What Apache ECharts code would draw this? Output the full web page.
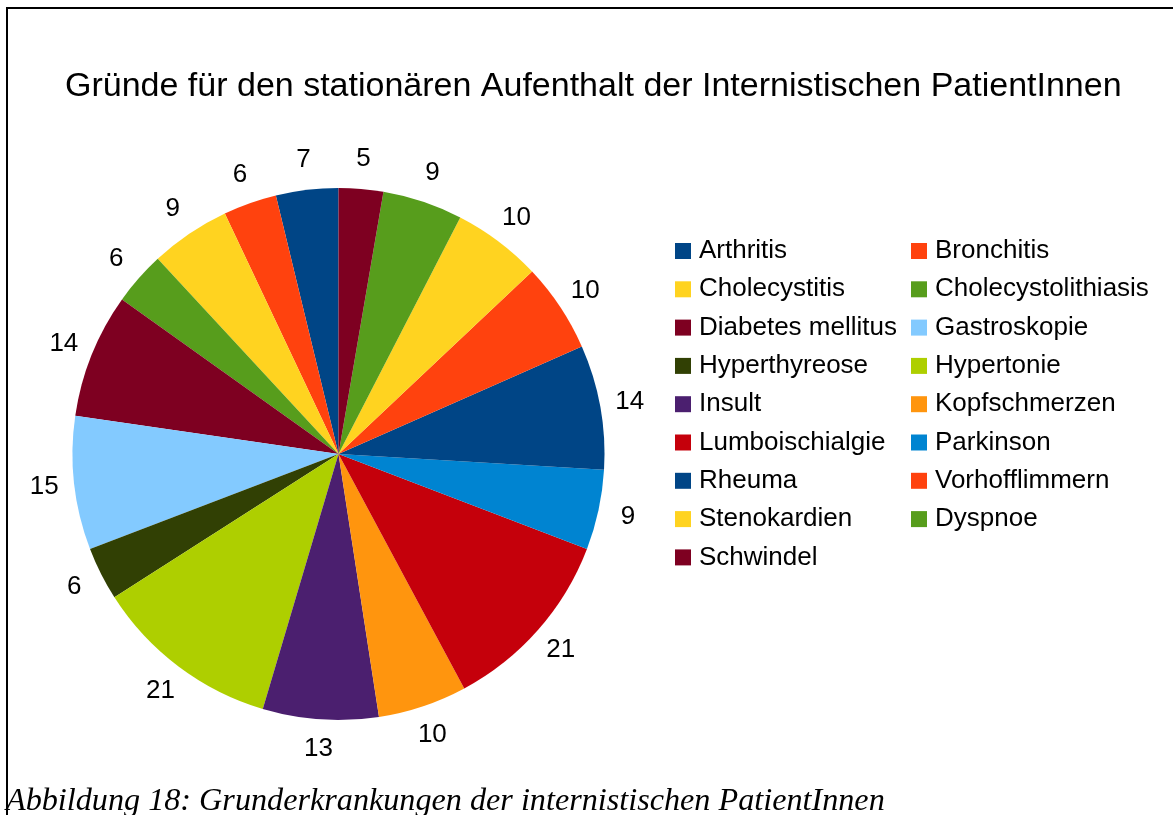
<!DOCTYPE html>
<html>
<head>
<meta charset="utf-8">
<script src="https://cdn.jsdelivr.net/npm/echarts@6/dist/echarts.min.js"></script>
<style>
  html, body { margin: 0; padding: 0; background: #fff; }
  #chart { width: 1173px; height: 815px; }
</style>
</head>
<body>
<div id="chart"></div>
<script>
// categories in legend order (pie runs counter-clockwise from 12 o'clock)
const diagnoses = [
  'Arthritis', 'Bronchitis', 'Cholecystitis', 'Cholecystolithiasis',
  'Diabetes mellitus', 'Gastroskopie', 'Hyperthyreose', 'Hypertonie',
  'Insult', 'Kopfschmerzen', 'Lumboischialgie', 'Parkinson',
  'Rheuma', 'Vorhofflimmern', 'Stenokardien', 'Dyspnoe', 'Schwindel'
];
const patients = [7, 6, 9, 6, 14, 15, 6, 21, 13, 10, 21, 9, 14, 10, 10, 9, 5];
const palette = [
  '#004586', '#ff420e', '#ffd320', '#579d1c', '#7e0021', '#83caff',
  '#314004', '#aecf00', '#4b1f6f', '#ff950e', '#c5000b', '#0084d1'
];

const font = 'Liberation Sans, Arial, sans-serif';
const pieData = diagnoses.map((name, i) => ({ name: name, value: patients[i] }));
const leftCol = diagnoses.filter((d, i) => i % 2 === 0);
const rightCol = diagnoses.filter((d, i) => i % 2 === 1);

const legendBase = {
  orient: 'vertical',
  top: 238,
  padding: 0,
  itemWidth: 16,
  itemHeight: 16,
  itemGap: 12.3,
  icon: 'rect',
  textStyle: { fontFamily: font, fontSize: 26, lineHeight: 26, color: '#000', padding: [0, 0, 0, 3] }
};

const chart = echarts.init(document.getElementById('chart'));
chart.setOption({
  backgroundColor: '#fff',
  color: palette,
  animation: false,
  title: [
    {
      text: 'Gründe für den stationären Aufenthalt der Internistischen PatientInnen',
      left: 65,
      top: 70,
      padding: 0,
      textStyle: { fontFamily: font, fontSize: 34, fontWeight: 'normal', color: '#000', lineHeight: 34 }
    },
    {
      text: 'Abbildung 18: Grunderkrankungen der internistischen PatientInnen',
      left: 6,
      top: 786,
      padding: 0,
      textStyle: {
        fontFamily: 'Liberation Serif, Times New Roman, serif',
        fontStyle: 'italic', fontSize: 32.2, fontWeight: 'normal', color: '#000', lineHeight: 32
      }
    }
  ],
  legend: [
    Object.assign({}, legendBase, { left: 675, data: leftCol }),
    Object.assign({}, legendBase, { left: 911, data: rightCol })
  ],
  graphic: [
    {
      type: 'polyline',
      silent: true,
      shape: { points: [[7, 815], [7, 8], [1173, 8]] },
      style: { stroke: '#000', lineWidth: 2, fill: null }
    }
  ],
  series: [
    {
      type: 'pie',
      center: [338.5, 454],
      radius: 266,
      startAngle: 90,
      clockwise: false,
      label: { show: false },
      labelLine: { show: false },
      emphasis: { disabled: true },
      data: pieData
    },
    {
      // transparent ring that carries the value labels just outside the pie
      type: 'pie',
      center: [338.5, 454],
      radius: [266, 320],
      startAngle: 90,
      clockwise: false,
      silent: true,
      itemStyle: { color: 'rgba(0,0,0,0)' },
      label: {
        show: true,
        position: 'inside',
        formatter: '{c}',
        fontFamily: font,
        fontSize: 26,
        color: '#000'
      },
      labelLine: { show: false },
      emphasis: { disabled: true },
      data: pieData
    }
  ]
});
</script>
</body>
</html>
